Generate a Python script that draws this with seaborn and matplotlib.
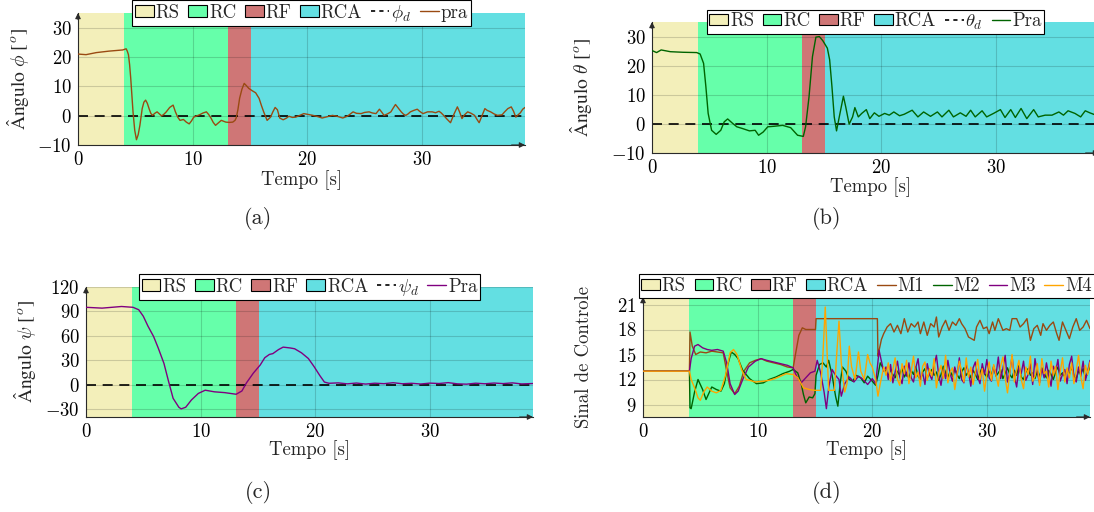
import matplotlib
matplotlib.use("Agg")
import matplotlib.pyplot as plt
from matplotlib.patches import Patch
from matplotlib.lines import Line2D
import seaborn as sns

sns.set_theme(style="white")
plt.rcParams["font.family"] = ["cmr10", "DejaVu Serif"]
plt.rcParams["mathtext.fontset"] = "cm"
plt.rcParams["axes.formatter.use_mathtext"] = True
plt.rcParams["axes.unicode_minus"] = True

# ---------------- flight phases ----------------
phase_names = ["RS", "RC", "RF", "RCA"]
phase_edges = [0.0, 4.05, 13.1, 15.1, 39.0]
phase_colors = ["#F3EFBA", "#66FFAA", "#CF7676", "#63DFE2"]

ref_t = [0.0, 39.0]
ref_zero = [0.0, 0.0]

# ---------------- (a) roll angle ----------------
t_phi = [0.0, 0.7, 1.6, 2.7, 3.9, 4.2, 4.3, 4.4, 4.5, 4.6, 4.7, 4.8, 4.95, 5.1, 5.25,
         5.4, 5.6, 5.75, 5.9, 6.05, 6.2, 6.35, 6.5, 6.7, 6.9, 7.1, 7.3, 7.5, 7.7,
         8.0, 8.3, 8.5, 8.7, 8.9, 9.2, 9.45, 9.7, 9.9, 10.1, 10.6, 10.9, 11.2, 11.4,
         11.6, 11.8, 12.0, 12.2, 12.5, 12.7, 12.9, 13.2, 13.5, 13.7, 13.8, 13.95, 14.1,
         14.3, 14.5, 14.7, 14.9, 15.2, 15.5, 15.8, 16.0, 16.2, 16.5, 16.8, 17.0, 17.2,
         17.4, 17.6, 17.9, 18.2, 18.4, 18.7, 19.0, 19.4, 19.7, 20.1, 20.5, 20.9, 21.3,
         21.7, 22.2, 22.6, 23.1, 23.5, 24.0, 24.3, 24.7, 25.0, 25.4, 25.7, 26.0, 26.3,
         26.5, 26.7, 27.0, 27.3, 27.5, 27.7, 27.9, 28.2, 28.4, 28.6, 28.8, 29.0, 29.3,
         29.6, 29.8, 30.1, 30.3, 30.5, 30.9, 31.2, 31.5, 31.7, 31.9, 32.2, 32.5, 32.8,
         33.1, 33.3, 33.5, 33.7, 34.0, 34.3, 34.6, 34.8, 35.0, 35.2, 35.5, 35.7, 36.0,
         36.3, 36.6, 37.0, 37.2, 37.5, 37.8, 38.0, 38.2, 38.4, 38.6, 38.8, 39.0]
phi = [21.0, 20.8, 21.5, 22.0, 22.4, 22.8, 22.0, 20.8, 17.5, 12.8, 7.0, 1.3, -5.0, -8.2, -6.5,
       -3.3, 2.4, 4.6, 5.3, 4.2, 2.4, 0.8, 0.1, 0.8, 1.3, 0.6, -0.1, 0.5, 1.3,
       2.8, 3.6, 1.3, -0.5, -1.6, -1.3, -2.2, -2.8, -1.8, -0.5, 0.3, 0.9, 1.3, 0.4,
       -0.8, -2.3, -3.3, -2.6, -1.6, -1.9, -2.2, -2.3, -2.2, -1.6, -0.8, 2.0, 5.9,
       9.0, 11.0, 10.2, 9.3, 8.5, 7.8, 5.9, 3.5, 1.3, -1.6, -0.5, 1.3, 2.8,
       2.0, -0.8, -1.4, -0.8, -0.2, -0.6, -0.5, 0.2, 0.7, 0.4, 0.1, -0.3, -0.8,
       -0.4, 0.1, -0.2, -0.8, -0.2, 1.3, 0.8, 0.7, 1.1, 1.3, 0.9, 0.7, 2.2,
       1.2, 0.1, 0.6, 1.3, 2.6, 3.8, 2.8, 1.3, 0.5, 0.1, 0.6, 1.3, 1.8,
       2.2, 1.5, 0.7, 1.0, 1.3, 1.3, 1.0, 1.5, 0.9, 0.1, -1.2, -2.4, 0.5,
       3.0, 1.2, -1.0, 0.2, 1.3, 0.8, 0.1, -1.2, -2.4, -0.5, 2.4, 1.8, 1.3,
       0.6, 0.1, 0.3, 1.2, 2.4, 3.0, 1.5, -0.5, 0.3, 1.0, 2.2, 2.8]

# ---------------- (b) pitch angle ----------------
t_theta = [0.0, 0.4, 0.8, 1.6, 2.7, 3.9, 4.2, 4.5, 4.7, 4.9, 5.2, 5.6, 6.0, 6.3, 6.6,
           7.0, 7.4, 7.9, 8.5, 9.0, 9.3, 9.7, 10.1, 10.7, 11.4, 12.1, 12.7, 13.2, 13.4,
           13.7, 14.0, 14.3, 14.6, 14.9, 15.3, 15.5, 15.7, 15.9, 16.1, 16.4, 16.7, 16.9,
           17.2, 17.5, 17.7, 18.0, 18.3, 18.7, 19.0, 19.4, 19.8, 20.3, 20.7, 21.1, 21.6,
           22.0, 22.7, 23.2, 23.7, 24.3, 24.9, 25.3, 25.9, 26.3, 26.9, 27.4, 27.8, 28.2,
           28.8, 29.2, 29.8, 30.4, 30.8, 31.3, 31.7, 32.2, 32.7, 33.3, 33.7, 34.3, 34.9,
           35.5, 35.9, 36.3, 36.9, 37.4, 37.8, 38.2, 38.6, 39.0]
theta = [25.2, 24.5, 25.4, 24.8, 24.6, 24.5, 24.0, 20.8, 12.8, 3.6, -2.2, -3.6, -2.2, 0.7, 1.7,
         0.3, -1.0, -1.6, -2.4, -2.2, -3.9, -2.8, -1.0, -0.8, -0.5, -1.3, -3.9, -4.3, -1.0,
         9.3, 23.1, 29.8, 30.0, 28.6, 26.0, 22.0, 12.8, 2.4, -2.4, 3.6, 9.5, 5.9,
         -0.1, 2.4, 5.6, 2.4, 3.6, 4.9, 1.8, 3.8, 2.6, 3.6, 3.0, 4.1, 2.8,
         3.3, 4.7, 2.4, 4.1, 2.6, 4.1, 2.4, 4.7, 2.4, 3.8, 2.6, 4.7, 2.4,
         4.5, 2.4, 3.6, 4.9, 2.2, 4.9, 2.2, 5.3, 1.8, 4.9, 2.4, 3.0, 3.0,
         4.1, 3.0, 4.5, 3.6, 2.4, 4.5, 3.8, 3.2, 3.5]

# ---------------- (c) yaw angle ----------------
t_psi = [0.0, 1.4, 3.1, 4.1, 4.6, 5.0, 5.4, 5.9, 6.3, 6.8, 7.2, 7.6, 8.1, 8.3, 8.7,
         9.2, 9.8, 10.4, 11.2, 12.1, 13.1, 13.6, 14.0, 14.6, 15.2, 15.6, 16.0, 16.3,
         16.8, 17.2, 17.8, 18.2, 18.8, 19.4, 19.9, 20.4, 20.8, 21.2, 22.0, 22.8, 23.6,
         24.4, 25.2, 26.0, 26.8, 27.6, 28.4, 29.2, 30.0, 30.8, 31.6, 32.4, 33.2, 34.0,
         34.8, 35.6, 36.4, 37.2, 38.0, 39.0]
psi = [95, 94, 96, 95, 92, 84, 72, 59, 45, 26, 4, -17, -28, -30, -28,
       -19, -11, -7, -9, -10, -12, -8, 2, 14, 24, 33, 37, 38,
       43, 46, 45, 44, 39, 32, 22, 11, 3, 1.5, 2.0, 0.8, 1.8,
       0.5, 1.6, 1.0, 2.2, 0.9, 1.5, 0.6, 1.7, 1.2, 2.3, 0.8, 0.4, 1.6,
       0.9, 1.8, 1.1, 2.0, 0.7, 1.2]

# ---------------- (d) motor commands ----------------
t_m1 = [0.0, 4.05, 4.1, 4.3, 4.6, 5.0, 5.5, 6.0, 6.5, 7.0, 7.3, 7.6, 8.0, 8.4, 8.8,
        9.3, 9.8, 10.3, 10.8, 11.4, 12.0, 12.6, 13.1, 13.3, 13.6, 13.9, 14.2, 14.6,
        15.05, 15.1, 20.45, 20.5, 20.6, 20.8, 21.0, 21.3, 21.6, 21.9, 22.2, 22.5, 22.8,
        23.1, 23.4, 23.7, 24.0, 24.2, 24.5, 24.8, 25.1, 25.4, 25.6, 25.8, 26.1, 26.4,
        26.7, 27.0, 27.3, 27.6, 27.8, 28.1, 28.4, 28.9, 29.1, 29.4, 29.7, 30.0, 30.2,
        30.5, 30.7, 31.0, 31.4, 31.7, 32.0, 32.2, 32.6, 32.9, 33.2, 33.5, 33.8, 34.1,
        34.4, 34.7, 34.9, 35.2, 35.5, 35.8, 36.1, 36.3, 36.6, 36.9, 37.2, 37.5, 37.8,
        38.1, 38.4, 38.7, 39.0]
m1 = [13.0, 13.0, 17.7, 16.0, 15.0, 15.3, 15.2, 15.4, 15.3, 15.2, 13.0, 11.0, 10.3, 11.2, 13.0,
      14.0, 14.3, 14.5, 14.2, 14.0, 13.8, 13.5, 13.4, 15.0, 17.3, 18.2, 18.0, 18.0,
      18.0, 19.3, 19.3, 14.8, 15.5, 16.8, 17.5, 18.3, 18.7, 17.7, 18.5, 17.5, 19.3,
      17.7, 18.7, 18.3, 18.9, 17.5, 18.9, 17.3, 18.7, 18.3, 19.5, 17.1, 18.3, 19.1,
      17.9, 18.9, 18.5, 19.3, 18.7, 18.1, 17.1, 16.7, 18.3, 19.1, 18.1, 18.3, 17.5,
      18.9, 17.9, 19.3, 17.9, 18.1, 17.9, 19.3, 19.3, 18.3, 18.7, 19.3, 16.7, 18.1,
      18.5, 17.3, 18.7, 17.9, 18.5, 18.9, 17.5, 16.7, 18.9, 17.9, 16.9, 18.3, 19.3,
      17.9, 18.3, 19.1, 18.1]

t_m2_start = [0.0, 4.05, 4.1, 4.2, 4.5, 4.8, 5.2, 5.5, 5.8, 6.0, 6.4, 6.8, 7.1, 7.4, 7.7,
              8.0, 8.3, 8.7, 9.0, 9.3, 9.9, 10.5, 11.0, 11.6, 12.2, 12.8, 13.1, 13.5,
              13.8, 14.0, 14.2, 14.5, 14.8, 15.0, 15.1, 15.4, 15.7, 16.0, 16.2, 16.5,
              16.8, 17.0, 17.2, 17.4, 17.7, 18.0, 18.3, 18.6, 19.0, 19.3, 19.6, 20.0,
              20.3, 20.5, 20.7, 21.0]
m2_start = [13.0, 13.0, 8.6, 8.5, 10.5, 12.0, 10.8, 9.6, 10.5, 11.1, 10.8, 10.6, 11.5, 13.8, 15.3,
            15.0, 14.5, 13.1, 12.6, 12.1, 11.5, 11.6, 12.0, 12.3, 12.7, 13.0, 13.2, 12.8,
            11.5, 10.2, 9.2, 9.9, 9.8, 10.3, 12.5, 13.8, 14.0, 13.5, 14.3, 12.5,
            10.0, 8.8, 11.5, 13.5, 13.0, 12.0, 11.8, 12.5, 12.2, 11.6, 12.4, 11.8,
            11.3, 12.5, 14.0, 13.2]

t_m3_start = [0.0, 4.05, 4.2, 4.5, 4.8, 5.2, 5.6, 6.0, 6.5, 7.0, 7.3, 7.6, 8.0, 8.3, 8.7,
              9.2, 9.8, 10.3, 10.8, 11.4, 12.0, 12.6, 13.1, 13.4, 13.8, 14.2, 14.6, 15.0,
              15.2, 15.5, 15.8, 16.0, 16.2, 16.5, 16.8, 17.1, 17.3, 17.6, 18.0, 18.4,
              18.8, 19.2, 19.6, 20.0, 20.3, 20.6, 20.8, 21.0]
m3_start = [13.0, 13.0, 14.5, 16.0, 16.2, 15.8, 15.6, 15.5, 15.6, 15.4, 14.0, 11.5, 10.2, 10.6, 12.0,
            13.5, 14.2, 14.5, 14.3, 14.1, 13.9, 13.7, 13.4, 12.4, 11.6, 12.2, 12.8, 13.0,
            14.3, 12.8, 10.5, 8.5, 11.0, 13.2, 12.5, 12.0, 10.0, 11.5, 12.3, 11.7,
            12.4, 12.0, 11.4, 12.1, 11.5, 15.5, 14.2, 13.0]

t_m4_start = [0.0, 4.05, 4.2, 4.5, 4.8, 5.0, 5.3, 5.6, 6.0, 6.4, 6.8, 7.2, 7.6, 7.9, 8.2,
              8.6, 9.0, 9.3, 9.8, 10.5, 11.0, 11.5, 12.0, 12.5, 13.1, 13.5, 13.8, 14.0,
              14.5, 15.0, 15.5, 15.7, 15.9, 16.1, 16.2, 16.7, 16.9, 17.1, 17.3, 17.6,
              17.8, 18.0, 18.2, 18.5, 18.8, 19.0, 19.3, 19.6, 19.8, 20.0, 20.3, 20.5,
              20.7, 21.0]
m4_start = [13.0, 13.0, 12.0, 11.0, 9.8, 9.5, 10.5, 11.1, 10.6, 10.4, 10.7, 12.5, 15.2, 15.6, 15.0,
            13.2, 12.0, 11.9, 11.7, 11.8, 11.9, 12.1, 12.4, 12.7, 12.6, 12.2, 11.5, 11.0,
            10.8, 10.7, 10.7, 15.0, 20.7, 14.0, 10.7, 10.7, 15.0, 19.0, 14.0, 10.5,
            11.5, 16.0, 13.5, 12.0, 15.3, 13.0, 12.0, 15.0, 14.0, 13.5, 12.0, 10.0,
            11.5, 13.5]

# hover phase samples shared by M2, M3 and M4
t_hover = [21.2, 21.4, 21.6, 21.8, 22.0, 22.2, 22.4, 22.6, 22.8, 23.0,
           23.2, 23.4, 23.6, 23.8, 24.0, 24.2, 24.4, 24.6, 24.8, 25.0,
           25.2, 25.4, 25.6, 25.8, 26.0, 26.2, 26.4, 26.6, 26.8, 27.0,
           27.2, 27.4, 27.6, 27.8, 28.0, 28.2, 28.4, 28.6, 28.8, 29.0,
           29.2, 29.4, 29.6, 29.8, 30.0, 30.2, 30.4, 30.6, 30.8, 31.0,
           31.2, 31.4, 31.6, 31.8, 32.0, 32.2, 32.4, 32.6, 32.8, 33.0,
           33.2, 33.4, 33.6, 33.8, 34.0, 34.2, 34.4, 34.6, 34.8, 35.0,
           35.2, 35.4, 35.6, 35.8, 36.0, 36.2, 36.4, 36.6, 36.8, 37.0,
           37.2, 37.4, 37.6, 37.8, 38.0, 38.2, 38.4, 38.6, 38.8, 39.0]
m2_hover = [13.0, 12.4, 13.2, 12.6, 12.2, 13.0, 12.5, 13.4, 12.3, 12.8,
            12.1, 13.1, 12.6, 13.5, 12.4, 12.0, 12.9, 13.3, 12.2, 12.7,
            13.2, 12.5, 12.9, 11.9, 12.6, 13.6, 12.8, 12.2, 13.0, 12.4,
            13.3, 12.6, 12.1, 12.9, 13.4, 12.5, 12.9, 12.2, 13.1, 12.6,
            12.0, 12.8, 13.5, 12.7, 12.3, 13.0, 12.5, 13.6, 12.4, 12.8,
            13.2, 12.1, 12.7, 13.4, 12.6, 12.2, 13.1, 12.5, 13.7, 12.3,
            12.0, 12.9, 13.3, 12.5, 12.8, 12.1, 13.0, 12.4, 13.4, 12.7,
            12.2, 13.1, 12.6, 12.0, 12.9, 13.5, 12.5, 12.8, 12.3, 13.2,
            12.6, 13.6, 12.4, 12.1, 13.0, 12.7, 13.3, 12.2, 12.8, 13.5]
m3_hover = [13.5, 12.0, 13.8, 11.6, 12.9, 14.2, 12.3, 11.5, 13.6, 12.4,
            14.0, 12.2, 11.7, 13.4, 14.5, 12.0, 12.8, 11.4, 13.9, 12.6,
            12.0, 13.7, 14.9, 12.5, 11.3, 13.2, 12.1, 14.3, 12.7, 11.8,
            13.5, 12.4, 14.6, 12.0, 11.6, 13.8, 12.9, 11.2, 13.4, 14.1,
            12.3, 11.5, 13.9, 12.6, 14.4, 12.2, 11.8, 13.6, 12.5, 14.7,
            12.1, 13.3, 14.9, 11.7, 12.8, 14.8, 12.4, 11.1, 13.5, 12.7,
            14.2, 11.9, 12.6, 13.9, 11.4, 14.5, 12.8, 11.6, 13.3, 12.2,
            14.0, 12.5, 11.2, 13.6, 12.9, 14.4, 11.8, 12.6, 13.2, 11.5,
            13.8, 14.8, 12.3, 11.7, 13.5, 12.4, 14.2, 11.9, 13.0, 14.3]
m4_hover = [12.5, 14.0, 11.8, 13.2, 14.6, 12.0, 11.3, 13.9, 12.7, 14.3,
            11.5, 13.0, 14.8, 12.2, 12.9, 11.2, 13.6, 14.1, 11.9, 13.3,
            12.4, 14.5, 11.0, 12.8, 13.7, 12.1, 14.9, 11.6, 12.9, 13.4,
            10.8, 12.6, 14.2, 13.0, 11.7, 14.6, 12.3, 13.5, 11.4, 12.9,
            14.4, 12.0, 13.3, 10.6, 12.7, 14.1, 11.9, 13.8, 12.5, 11.2,
            13.6, 14.7, 12.2, 10.4, 12.8, 15.0, 11.7, 13.2, 14.3, 12.0,
            10.9, 13.5, 12.6, 14.8, 11.8, 12.4, 13.9, 11.3, 14.5, 12.7,
            13.0, 11.1, 14.2, 12.5, 13.6, 10.8, 12.9, 14.6, 11.7, 13.4,
            12.2, 14.0, 11.5, 13.1, 14.9, 12.3, 10.9, 13.7, 12.6, 14.1]

motor_names = ["M1", "M2", "M3", "M4"]
motor_colors = ["#9A4A12", "#006400", "#800080", "#FFA500"]

W, H = 1094, 512
FS = 13.5
LABEL_FONT = ["STIXGeneral", "DejaVu Serif"]
fig = plt.figure(figsize=(W / 100, H / 100), dpi=100)


def make_panel(box, ylim, yticks):
    left, top, right, bottom = box
    ax = fig.add_axes([left / W, 1 - bottom / H, (right - left) / W, (bottom - top) / H])
    for i in range(len(phase_names)):
        ax.axvspan(phase_edges[i], phase_edges[i + 1], color=phase_colors[i], lw=0, zorder=0)
    ax.set_xlim(phase_edges[0], phase_edges[-1])
    ax.set_ylim(*ylim)
    ax.set_xticks([0, 10, 20, 30])
    ax.set_yticks(yticks)
    ax.grid(True, color="black", alpha=0.16, lw=0.8)
    ax.set_axisbelow("line")
    for s in ("top", "right"):
        ax.spines[s].set_visible(False)
    for s in ("left", "bottom"):
        ax.spines[s].set_color("#2a2a2a")
        ax.spines[s].set_linewidth(0.8)
    ax.tick_params(labelsize=FS, length=3, width=0.6, direction="inout", pad=3,
                   color="#2a2a2a", labelcolor="black")
    ax.annotate("", xy=(1.0, 0), xytext=(0.97, 0), xycoords="axes fraction",
                arrowprops=dict(arrowstyle="-|>", color="#2a2a2a", lw=0.8,
                                mutation_scale=8, shrinkA=0, shrinkB=0))
    ax.annotate("", xy=(0, 1.0), xytext=(0, 0.95), xycoords="axes fraction",
                arrowprops=dict(arrowstyle="-|>", color="#2a2a2a", lw=0.8,
                                mutation_scale=8, shrinkA=0, shrinkB=0))
    return ax


def add_legend(ax, extra_handles, extra_labels, y=1.0):
    handles = [Patch(facecolor=c, edgecolor="black", lw=0.8) for c in phase_colors]
    handles += extra_handles
    labels = phase_names + extra_labels
    leg = ax.legend(handles, labels, loc="center", bbox_to_anchor=(0.5, y),
                    ncol=len(labels), frameon=True, fancybox=False, framealpha=1,
                    edgecolor="black", facecolor="white", fontsize=FS,
                    handlelength=1.0, handleheight=0.55, handletextpad=0.1,
                    columnspacing=0.46, borderpad=0.15, borderaxespad=0)
    leg.get_frame().set_linewidth(0.8)
    leg.set_zorder(10)
    return leg


def draw_line(ax, x, y, color, lw=1.0, dashed=False, z=3):
    sns.lineplot(x=x, y=y, ax=ax, color=color, lw=lw, estimator=None, sort=False,
                 legend=False, zorder=z, linestyle=(0, (6, 4)) if dashed else "-")


def ref_handle():
    return Line2D([], [], color="black", lw=1.2, linestyle=(0, (2.5, 2.5)))


def curve_handle(c):
    return Line2D([], [], color=c, lw=1.0)


# (a)
ax_a = make_panel((78, 13, 525, 145), (-10, 35), [-10, 0, 10, 20, 30])
draw_line(ax_a, ref_t, ref_zero, "black", lw=1.2, dashed=True, z=2)
draw_line(ax_a, t_phi, phi, "#9A4A12")
add_legend(ax_a, [ref_handle(), curve_handle("#9A4A12")], [r"$\phi_d$", "pra"])
ax_a.set_ylabel(r"Ângulo $\phi$ [$^o$]", fontsize=FS + 0.5, family=LABEL_FONT)
ax_a.yaxis.set_label_coords(-0.105, 0.5)
ax_a.set_xlabel("Tempo [s]", fontsize=FS, va="center")
ax_a.xaxis.set_label_coords(0.5, -0.265)

# (b)
ax_b = make_panel((652, 22, 1099, 153), (-10, 35), [-10, 0, 10, 20, 30])
draw_line(ax_b, ref_t, ref_zero, "black", lw=1.2, dashed=True, z=2)
draw_line(ax_b, t_theta, theta, "#006400")
add_legend(ax_b, [ref_handle(), curve_handle("#006400")], [r"$\theta_d$", "Pra"])
ax_b.set_ylabel(r"Ângulo $\theta$ [$^o$]", fontsize=FS + 0.5, family=LABEL_FONT)
ax_b.yaxis.set_label_coords(-0.13, 0.5)
ax_b.set_xlabel("Tempo [s]", fontsize=FS, va="center")
ax_b.xaxis.set_label_coords(0.49, -0.26)

# (c)
ax_c = make_panel((86, 287, 533, 417), (-40, 120), [-30, 0, 30, 60, 90, 120])
draw_line(ax_c, ref_t, ref_zero, "black", lw=1.2, dashed=True, z=2)
draw_line(ax_c, t_psi, psi, "#800080")
add_legend(ax_c, [ref_handle(), curve_handle("#800080")], [r"$\psi_d$", "Pra"])
ax_c.set_ylabel(r"Ângulo $\psi$ [$^o$]", fontsize=FS + 0.5, family=LABEL_FONT)
ax_c.yaxis.set_label_coords(-0.107, 0.5)
ax_c.set_xlabel("Tempo [s]", fontsize=FS, va="center")
ax_c.xaxis.set_label_coords(0.5, -0.255)

# (d)
ax_d = make_panel((643, 297, 1090, 417), (7.5, 21.9), [9, 12, 15, 18, 21])
draw_line(ax_d, t_m1, m1, motor_colors[0])
draw_line(ax_d, t_m2_start + t_hover, m2_start + m2_hover, motor_colors[1])
draw_line(ax_d, t_m3_start + t_hover, m3_start + m3_hover, motor_colors[2])
draw_line(ax_d, t_m4_start + t_hover, m4_start + m4_hover, motor_colors[3])
add_legend(ax_d, [curve_handle(c) for c in motor_colors], motor_names, y=1.09)
ax_d.set_ylabel("Sinal de Controle", fontsize=FS)
ax_d.yaxis.set_label_coords(-0.112, 0.5)
ax_d.set_xlabel("Tempo [s]", fontsize=FS, va="center")
ax_d.xaxis.set_label_coords(0.5, -0.275)

# sub-figure captions
for label, (cx, cy) in zip(["(a)", "(b)", "(c)", "(d)"],
                           [(258, 218), (827, 218), (258, 493), (827, 493)]):
    fig.text(cx / W, 1 - cy / H, label, ha="center", va="center", fontsize=16)

fig.savefig("out.png", dpi=100)
